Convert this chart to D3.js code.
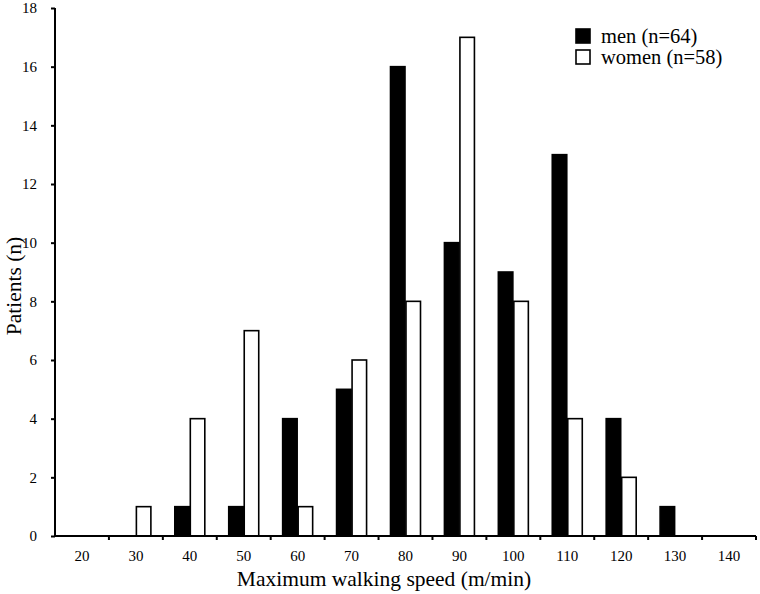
<!DOCTYPE html>
<html>
<head>
<meta charset="utf-8">
<script src="https://cdn.jsdelivr.net/npm/d3@7"></script>
<style>
  body { margin: 0; background: #fff; }
  text { font-family: "Liberation Serif", "DejaVu Serif", serif; }
</style>
</head>
<body>
<div id="chart"></div>
<script>
// data
var speeds = ["20", "30", "40", "50", "60", "70", "80", "90", "100", "110", "120", "130", "140"];
var men   = [0, 0, 1, 1, 4, 5, 16, 10, 9, 13, 4, 1, 0];
var women = [0, 1, 4, 7, 1, 6, 8, 17, 8, 4, 2, 0, 0];
var yTicks = [0, 2, 4, 6, 8, 10, 12, 14, 16, 18];
var series = [
    { key: "men", label: "men (n=64)", values: men, fill: "#000" },
    { key: "women", label: "women (n=58)", values: women, fill: "#fff" }
];

const width = 760, height = 594;
const margin = { top: 8, right: 4, bottom: 58, left: 55 };

var svg = d3.select("#chart")
    .append("svg")
    .attr("width", width)
    .attr("height", height);

var x = d3.scaleBand()
    .domain(speeds)
    .range([margin.left, width - margin.right]);

var xInner = d3.scaleBand()
    .domain(series.map(function (s) { return s.key; }))
    .range([0, 31])
    .padding(0);

var y = d3.scaleLinear()
    .domain([0, 18])
    .range([height - margin.bottom, margin.top]);

// bars
series.forEach(function (s) {
    svg.append("g")
        .selectAll("rect")
        .data(speeds.map(function (c, i) { return { cat: c, v: s.values[i] }; })
            .filter(function (d) { return d.v > 0; }))
        .enter()
        .append("rect")
        .attr("x", function (d) { return x(d.cat) + (x.bandwidth() - 31) / 2 + xInner(s.key) + 0.5; })
        .attr("y", function (d) { return y(d.v); })
        .attr("width", xInner.bandwidth() - 1)
        .attr("height", function (d) { return y(0) - y(d.v); })
        .attr("fill", s.fill)
        .attr("stroke", "#000")
        .attr("stroke-width", 1.6);
});

// x axis: ticks sit between categories
var xAxis = svg.append("g")
    .attr("transform", "translate(0," + y(0) + ")");
xAxis.append("line")
    .attr("x1", margin.left).attr("x2", width - margin.right)
    .attr("stroke", "#000").attr("stroke-width", 2);
xAxis.selectAll(".tk")
    .data(speeds)
    .enter().append("line")
    .attr("x1", function (d) { return x(d) + x.bandwidth(); })
    .attr("x2", function (d) { return x(d) + x.bandwidth(); })
    .attr("y1", 0).attr("y2", 4)
    .attr("stroke", "#000").attr("stroke-width", 2);
xAxis.selectAll(".lbl")
    .data(speeds)
    .enter().append("text")
    .attr("x", function (d) { return x(d) + x.bandwidth() / 2; })
    .attr("y", 25)
    .attr("text-anchor", "middle")
    .attr("font-size", 15)
    .text(function (d) { return d; });

// y axis
var yAxis = svg.append("g")
    .attr("transform", "translate(" + margin.left + ",0)")
    .call(d3.axisLeft(y).tickValues(yTicks).tickSize(4).tickPadding(14));
yAxis.select(".domain").attr("stroke-width", 2).attr("d", "M0," + y(18) + "V" + y(0));
yAxis.selectAll(".tick line").attr("stroke-width", 2);
yAxis.selectAll(".tick text")
    .attr("font-size", 15)
    .attr("font-family", "Liberation Serif, serif")
    .attr("fill", "#000");

// axis titles
svg.append("text")
    .attr("x", 384)
    .attr("y", 586)
    .attr("text-anchor", "middle")
    .attr("font-size", 21.5)
    .text("Maximum walking speed (m/min)");

svg.append("text")
    .attr("transform", "translate(21,286) rotate(-90)")
    .attr("text-anchor", "middle")
    .attr("font-size", 21.5)
    .text("Patients (n)");

// legend
var legend = svg.append("g")
    .attr("transform", "translate(576,29)");
series.forEach(function (s, i) {
    var g = legend.append("g").attr("transform", "translate(0," + i * 21 + ")");
    g.append("rect")
        .attr("width", 14).attr("height", 14)
        .attr("fill", s.fill)
        .attr("stroke", "#000").attr("stroke-width", 1.6);
    g.append("text")
        .attr("x", 25).attr("y", 14)
        .attr("font-size", 20.5)
        .text(s.label);
});
</script>
</body>
</html>
